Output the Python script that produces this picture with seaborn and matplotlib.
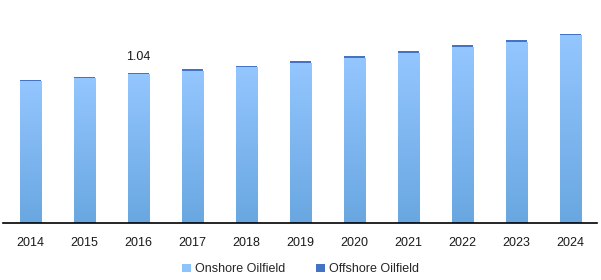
import numpy as np
import pandas as pd
import matplotlib
matplotlib.use("Agg")
import matplotlib.pyplot as plt
from matplotlib.patches import Patch
from matplotlib.colors import LinearSegmentedColormap
import seaborn as sns

years = ["2014", "2015", "2016", "2017", "2018", "2019", "2020", "2021", "2022", "2023", "2024"]
onshore = [0.983, 1.003, 1.033, 1.052, 1.080, 1.110, 1.145, 1.180, 1.216, 1.256, 1.303]
offshore = [0.007, 0.007, 0.007, 0.014, 0.010, 0.010, 0.010, 0.010, 0.014, 0.014, 0.007]
labels = ["", "", "1.04", "", "", "", "", "", "", "", ""]

total = [a + b for a, b in zip(onshore, offshore)]
df = pd.DataFrame({"year": years, "onshore": onshore, "total": total})

sns.set_theme(style="white")
plt.rcParams["font.family"] = ["Liberation Sans", "DejaVu Sans"]

fig = plt.figure(figsize=(6.01, 2.8), dpi=100)
ax = fig.add_axes([0.0055, 0.2036, 0.9885, 0.76])

off_color = "#4472C4"
on_light = "#94C6FF"
on_dark = "#69A7E1"

sns.barplot(data=df, x="year", y="total", color=off_color, width=0.39,
            saturation=1, ax=ax, linewidth=0)
n_before = len(ax.patches)
sns.barplot(data=df, x="year", y="onshore", color=on_light, width=0.39,
            saturation=1, ax=ax, linewidth=0)
on_patches = ax.patches[n_before:]

ax.set_xlim(-0.5, 10.5)
ax.set_ylim(0, 1.473)

cmap = LinearSegmentedColormap.from_list("grad", [on_dark, on_light])
grad = np.linspace(0, 1, 256).reshape(-1, 1)
for p in on_patches:
    x0, y0 = p.get_x(), p.get_y()
    w, h = p.get_width(), p.get_height()
    im = ax.imshow(grad, extent=[x0, x0 + w, y0, y0 + h], origin="lower",
                   aspect="auto", cmap=cmap, zorder=p.get_zorder() + 0.1)
    im.set_clip_path(p)
ax.set_xlim(-0.5, 10.5)
ax.set_ylim(0, 1.473)

ax.bar_label(ax.containers[0], labels=labels, padding=7, fontsize=9, color="#1a1a1a")

ax.set_xlabel("")
ax.set_ylabel("")
ax.set_yticks([])
ax.tick_params(axis="x", length=0, pad=10, labelsize=9, labelcolor="#1a1a1a")
for s in ["top", "right", "left"]:
    ax.spines[s].set_visible(False)
ax.spines["bottom"].set_color("black")
ax.spines["bottom"].set_linewidth(1.2)

handles = [Patch(facecolor="#8DC3FD", edgecolor="none", label="Onshore Oilfield"),
           Patch(facecolor=off_color, edgecolor="none", label="Offshore Oilfield")]
fig.legend(handles=handles, loc="center", bbox_to_anchor=(0.5, 0.038), ncol=2,
           frameon=False, fontsize=9, handlelength=0.7, handleheight=0.7,
           handletextpad=0.3, columnspacing=2.5)

fig.savefig("out.png", dpi=100)
